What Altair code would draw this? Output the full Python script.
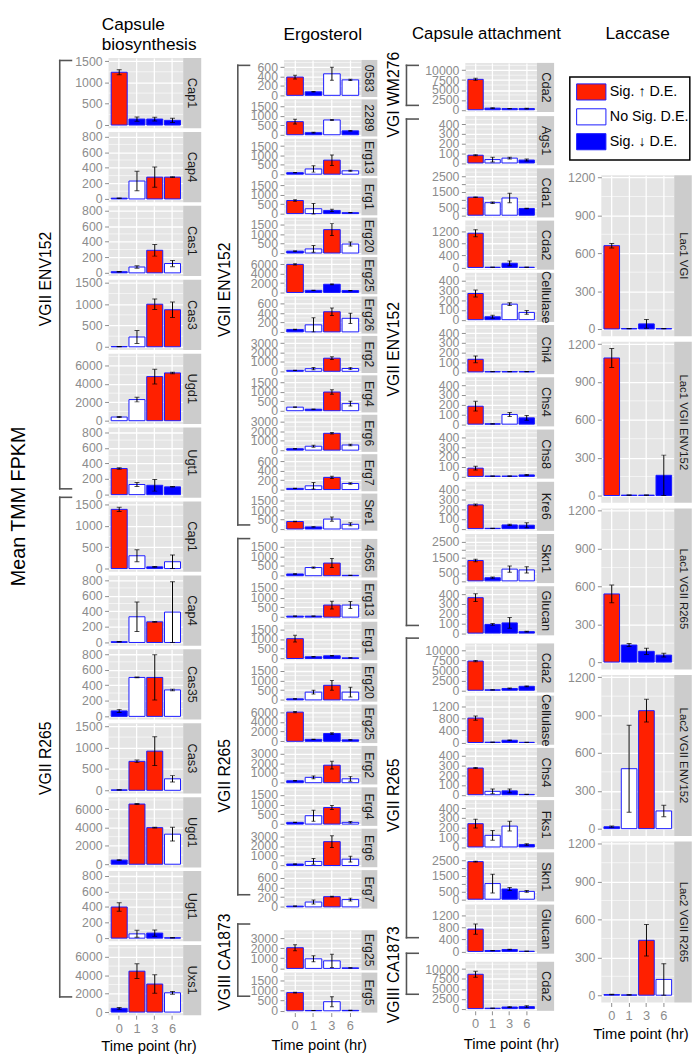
import altair as alt
import pandas as pd

FONT = "Liberation Sans"

# ---------------------------------------------------------------- data
TIMES = ["0", "1", "3", "6"]
SIG_CODES = ["U", "N", "D"]
SIG_LABELS = ["Sig. \u2191 D.E.", "No Sig. D.E.", "Sig. \u2193 D.E."]
SIG_FILLS = ["#FF2000", "#FFFFFF", "#0000FF"]
X_TITLE = "Time point (hr)"
Y_TITLE = "Mean TMM FPKM"
COL_TITLES = [["Capsule", "biosynthesis"], ["Ergosterol"], ["Capsule attachment"], ["Laccase"]]
LABEL_SKIP = {(2500, 500): [1000, 2000]}

# Capsule biosynthesis
CB_STRAINS = ["VGII ENV152", "VGII R265"]
CB_COUNTS = [6, 7]
CB_GENES = ["Cap1", "Cap4", "Cas1", "Cas3", "Ugd1", "Ugt1",
            "Cap1", "Cap4", "Cas35", "Cas3", "Ugd1", "Ugt1", "Uxs1"]
CB_MEAN = [[1240, 140, 140, 110], [10, 230, 280, 280], [15, 75, 290, 120],
           [5, 230, 1000, 870], [400, 2300, 4800, 5200], [335, 130, 120, 100],
           [1390, 300, 40, 160], [10, 330, 265, 390], [70, 500, 500, 340],
           [10, 680, 920, 270], [450, 6550, 3980, 3270], [400, 55, 65, 5],
           [400, 4450, 3050, 2100]]
CB_SE = [[60, 50, 45, 50], [3, 125, 130, 5], [3, 15, 75, 40],
         [2, 150, 125, 180], [60, 250, 800, 80], [10, 25, 75, 3],
         [50, 140, 10, 160], [3, 190, 5, 390], [20, 5, 290, 10],
         [3, 30, 340, 75], [50, 60, 40, 750], [55, 45, 40, 2],
         [100, 800, 1000, 150]]
CB_SIG = ["UDDD", "DNUU", "DNUN", "DNUU", "NNUU", "UNDD",
          "UNDN", "DNUN", "DNUN", "DUUN", "DUUN", "UNDD", "DUUN"]
CB_TICKS = [(1500, 500), (800, 200), (800, 200), (1500, 500), (6000, 2000), (800, 200),
            (1500, 500), (800, 200), (800, 200), (1500, 500), (6000, 2000), (800, 200), (6000, 2000)]
CB_LIMIT = [1500, 820, 820, 1500, 6950, 820, 1500, 820, 820, 1500, 6950, 820, 6950]

# Ergosterol
ERG_STRAINS = ["VGII ENV152", "VGII R265", "VGIII CA1873"]
ERG_COUNTS = [12, 9, 2]
ERG_GENES = ["0583", "2289", "Erg13", "Erg1", "Erg20", "Erg25", "Erg26", "Erg2", "Erg4", "Erg6", "Erg7", "Sre1",
             "4565", "Erg13", "Erg1", "Erg20", "Erg25", "Erg2", "Erg4", "Erg6", "Erg7",
             "Erg25", "Erg5"]
ERG_MEAN = [[390, 75, 460, 330], [700, 110, 790, 210], [80, 280, 750, 180], [700, 260, 170, 50],
            [100, 220, 1250, 480], [6000, 450, 1750, 400], [50, 150, 430, 290], [100, 280, 1400, 300],
            [190, 80, 1000, 380], [150, 420, 1800, 550], [25, 80, 260, 130], [400, 110, 530, 250],
            [90, 420, 650, 20], [50, 50, 620, 620], [1020, 90, 140, 35], [55, 400, 750, 400],
            [6000, 400, 1600, 300], [200, 550, 1800, 400], [90, 430, 850, 90], [150, 420, 2450, 650],
            [15, 100, 210, 150], [2050, 950, 750, 50], [900, 15, 450, 20]]
ERG_SE = [[40, 5, 140, 15], [130, 20, 25, 10], [10, 170, 280, 25], [45, 280, 60, 5],
          [10, 180, 320, 110], [150, 30, 80, 30], [5, 150, 80, 110], [10, 120, 150, 120],
          [10, 5, 120, 130], [10, 100, 80, 90], [3, 70, 25, 15], [10, 10, 110, 80],
          [10, 30, 230, 3], [5, 5, 200, 180], [170, 10, 15, 3], [5, 100, 250, 250],
          [150, 30, 150, 30], [20, 150, 400, 250], [10, 280, 100, 40], [15, 300, 600, 300],
          [2, 40, 8, 30], [300, 300, 650, 5], [15, 2, 250, 2]]
ERG_SIG = ["UDNN", "UDND", "DNUN", "UNDD", "DNUN", "UDDD", "DNUN", "DNUN", "NDUN", "DNUN", "DNUN", "UDNN",
           "DNUD", "DDUN", "UDDD", "DNUN", "UDDD", "DNUN", "DNUN", "DNUN", "DNUN",
           "UNND", "UDND"]
ERG_TICKS = [(600, 200), (1500, 500), (1500, 500), (1500, 500), (1500, 500), (6000, 2000),
             (600, 200), (3000, 1000), (1500, 500), (3000, 1000), (600, 200), (1500, 500),
             (1500, 500), (1500, 500), (1500, 500), (1500, 500), (6000, 2000), (3000, 1000),
             (1500, 500), (3000, 1000), (600, 200), (3000, 1000), (1500, 500)]
ERG_LIMIT = [720, 1800, 1800, 1800, 1800, 7200, 720, 3600, 1800, 3600, 720, 1800,
             1800, 1800, 1800, 1800, 7200, 3600, 1800, 3600, 720, 3600, 1800]

# Capsule attachment
CA_STRAINS = ["VGI WM276", "VGII ENV152", "VGII R265", "VGIII CA1873"]
CA_COUNTS = [1, 10, 6, 1]
CA_GENES = ["Cda2",
            "Ags1", "Cda1", "Cda2", "Cellulase", "Chi4", "Chs4", "Chs8", "Kre6", "Skn1", "Glucan",
            "Cda2", "Cellulase", "Chs4", "Fks1", "Skn1", "Glucan",
            "Cda2"]
CA_MEAN = [[7700, 400, 300, 300],
           [80, 35, 50, 30], [1150, 800, 1100, 430], [1150, 5, 140, 5], [270, 30, 160, 75],
           [130, 3, 3, 3], [185, 3, 100, 65], [85, 3, 3, 15], [245, 3, 38, 35],
           [1300, 200, 750, 700], [365, 90, 105, 15],
           [7400, 100, 450, 1000], [820, 10, 75, 5], [275, 35, 40, 3], [240, 120, 215, 25],
           [2400, 1000, 650, 500], [750, 30, 65, 5],
           [8700, 100, 400, 500]]
CA_SE = [[250, 100, 50, 100],
         [5, 25, 10, 10], [20, 50, 300, 10], [120, 2, 80, 2], [35, 15, 15, 20],
         [35, 1, 1, 1], [50, 1, 20, 25], [20, 1, 1, 5], [8, 1, 6, 25],
         [80, 40, 200, 200], [40, 8, 55, 4],
         [150, 20, 100, 100], [70, 2, 12, 1], [5, 25, 20, 1], [45, 50, 50, 8],
         [30, 600, 100, 60], [170, 5, 12, 1],
         [750, 20, 100, 250]]
CA_SIG = ["UDDD",
          "UNND", "UNND", "UDDD", "UDNN", "UDDD", "UDND", "UDDD", "UDDD", "UDNN", "UDDD",
          "UDDD", "UDDD", "UNDD", "UNND", "UNDN", "UDDD",
          "UDDD"]
CA_TICKS = [(10000, 2500),
            (400, 100), (2500, 500), (1200, 400), (400, 100), (400, 100), (400, 100), (400, 100),
            (400, 100), (2500, 500), (400, 100),
            (10000, 2500), (1200, 400), (400, 100), (400, 100), (2500, 500), (1200, 400),
            (10000, 2500)]
CA_LIMIT = [11300, 460, 2850, 1500, 460, 460, 460, 460, 460, 2850, 460,
            11300, 1500, 460, 460, 2850, 1500, 11300]

# Laccase
LAC_STRAINS = []
LAC_COUNTS = [5]
LAC_GENES = ["Lac1 VGI", "Lac1 VGII ENV152", "Lac1 VGII R265", "Lac2 VGII ENV152", "Lac2 VGII R265"]
LAC_MEAN = [[660, 3, 40, 3], [1090, 3, 3, 160], [540, 135, 85, 55], [15, 475, 935, 140], [5, 2, 435, 125]]
LAC_SE = [[18, 1, 35, 1], [75, 1, 1, 160], [70, 12, 25, 15], [5, 345, 90, 45], [2, 1, 125, 125]]
LAC_SIG = ["UDDD", "UDDD", "UDDD", "DNUN", "DDUN"]
LAC_TICKS = [(1200, 300)] * 5
LAC_LIMIT = [1160] * 5

# ---------------------------------------------------------------- layout (reference pixels)
SX, SY, TOP = 0.99, 0.99, 3.0
XTITLE_BASE = 1047.0
GRAY = "#8C8C8C"
PANEL_FILL = "#E5E5E5"
STRIP_FILL = "#CCCCCC"
BAR_STROKE = "#1A1AFF"
BRACKET_COLOR = "#555555"
FILL_SCALE = alt.Scale(domain=SIG_CODES, range=SIG_FILLS)

LAYOUT = [
    dict(x0=3, x1=200, plot_left=105, w=76.5, ws=18.5, strip_fs=13, cap=5,
         tops=[44.5, 491.5], heights=[72, 72], gaps=[2.5, 2.5],
         brackets=[(48, 487), (495.7, 1007.7)], label_y=[272, 763],
         bracket_x=55, tick_x=67, label_x=41.5,
         title_x=98, title_y=[17, 37.5], title_align="left", title_fs=17.5, xtitle_x=146),
    dict(x0=200, x1=379, plot_left=283.3, w=79.4, ws=16.3, strip_fs=12.5, cap=4,
         tops=[47, 532.5, 925], heights=[38, 39.5, 41], gaps=[2, 2, 2],
         brackets=[(53, 524), (538, 903), (933, 1007)], label_y=[283, 781, 972],
         bracket_x=236, tick_x=248, label_x=222.5,
         title_x=323, title_y=[26.5], title_align="center", title_fs=17.5, xtitle_x=319),
    dict(x0=379, x1=570, plot_left=468.3, w=73.4, ws=17.6, strip_fs=13, cap=4.5,
         tops=[49.5, 103.3, 636.3, 958.3], heights=[50.3] * 4, gaps=[2.5] * 4,
         brackets=[(53, 94), (108, 627), (640, 947), (963, 1005)], label_y=[83, 344, 801, 985],
         bracket_x=408, tick_x=420, label_x=395,
         title_x=490, title_y=[26], title_align="center", title_fs=17, xtitle_x=515),
    dict(x0=570, x1=700, plot_left=607.3, w=74.7, ws=18, strip_fs=11.5, cap=5,
         tops=[165.5], heights=[165], gaps=[5],
         brackets=[], label_y=[], bracket_x=0, tick_x=0, label_x=0,
         title_x=644.5, title_y=[26], title_align="center", title_fs=17.5, xtitle_x=647.5),
]
LEGEND = dict(box=(575, 65, 698, 150), sw_x=(582, 612), sw_top=72, sw_step=25.5, sw_h=16.5,
              text_x=616, fs=14.5)
YLAB = dict(x=13, y=505, fs=20)


def px(L, v):
    return (v - L["plot_left"]) * SX


def py(v):
    return (v - TOP) * SY


def pos(xf="x", yf="y"):
    return dict(x=alt.X(f"{xf}:Q", scale=None, axis=None),
                y=alt.Y(f"{yf}:Q", scale=None, axis=None))


def make_panel(L, gene, mean, se, sig, tick, limit, h_ref, bottom_ref=None):
    w = L["w"] * SX
    ws = L["ws"] * SX
    h = h_ref * SY
    top, step = tick
    ticks = list(range(0, top + 1, step))
    d_lo, d_hi = -0.05 * limit, 1.05 * limit
    minors = [t + step / 2 for t in ticks if t + step / 2 < d_hi]
    df = pd.DataFrame({"time": TIMES, "value": mean,
                       "lo": [m - s for m, s in zip(mean, se)],
                       "hi": [m + s for m, s in zip(mean, se)],
                       "sig": list(sig)})
    ysc = alt.Scale(domain=[d_lo, d_hi], nice=False, zero=False)
    xsc = alt.Scale(type="band", domain=TIMES, paddingInner=0.1, paddingOuter=0.15)
    yopts = dict(values=ticks, title=None, format="d", grid=True, gridColor="white", gridWidth=1.3,
                 domain=False, tickColor=GRAY, tickSize=4, tickWidth=1,
                 labelColor=GRAY, labelFontSize=12.5, labelPadding=2.5,
                 labelOverlap=False, labelFlush=False, labelBound=False)
    skip = LABEL_SKIP.get(tick)
    if skip:
        yopts["labelExpr"] = "indexof([%s], datum.value) >= 0 ? '' : datum.label" % ",".join(
            str(v) for v in skip)
    yaxis = alt.Axis(**yopts)
    if bottom_ref is not None:
        xaxis = alt.Axis(title=X_TITLE, labelAngle=0, grid=True, gridColor="white", gridWidth=1.3,
                         domain=False, bandPosition=0.5, tickColor=GRAY, tickSize=4, tickWidth=1,
                         labelColor=GRAY, labelFontSize=13, labelPadding=3,
                         titleFontSize=15, titleFontWeight="normal", titleColor="black",
                         titleX=(L["xtitle_x"] - L["plot_left"]) * SX,
                         titleY=(XTITLE_BASE - bottom_ref) * SY,
                         titleBaseline="alphabetic", titleAlign="center")
    else:
        xaxis = alt.Axis(title=None, labels=False, ticks=False, domain=False, grid=True,
                         gridColor="white", gridWidth=1.3, bandPosition=0.5)
    X = alt.X("time:N", scale=xsc, axis=xaxis, sort=TIMES)
    minor = alt.Chart(pd.DataFrame({"m": minors})).mark_rule(color="white", strokeWidth=0.6).encode(
        y=alt.Y("m:Q", scale=ysc, axis=yaxis))
    base = alt.Chart(df)
    bars = base.mark_bar(stroke=BAR_STROKE, strokeWidth=1).encode(
        x=X, y=alt.Y("value:Q", scale=ysc, axis=yaxis), y2=alt.datum(0),
        fill=alt.Fill("sig:N", scale=FILL_SCALE, legend=None))
    errs = base.mark_rule(color="black", strokeWidth=1, clip=True).encode(
        x=X, y=alt.Y("lo:Q", scale=ysc, axis=yaxis), y2="hi:Q")
    caps = base.transform_fold(["lo", "hi"], as_=["end", "yv"]).mark_tick(
        color="black", size=L["cap"], thickness=1, orient="horizontal", clip=True).encode(
        x=X, y=alt.Y("yv:Q", scale=ysc, axis=yaxis))
    sdf = pd.DataFrame({"g": [gene]})
    strip_bg = alt.Chart(sdf).mark_rect(fill=STRIP_FILL).encode(
        x=alt.value(w), x2=alt.value(w + ws), y=alt.value(0), y2=alt.value(h))
    strip_tx = alt.Chart(sdf).mark_text(angle=90, fontSize=L["strip_fs"], color="#1A1A1A",
                                        baseline="middle", align="center").encode(
        x=alt.value(w + ws / 2), y=alt.value(h / 2), text="g:N")
    return alt.layer(minor, bars, errs, caps, strip_bg, strip_tx).properties(
        width=w, height=h, view=alt.ViewBackground(fill=PANEL_FILL, strokeWidth=0))


def spacer(h):
    return alt.Chart(pd.DataFrame({"s": [0]})).mark_point(opacity=0, size=1).encode(
        x=alt.value(0), y=alt.value(0)).properties(width=1, height=h)


def title_chart(ci, L, strains):
    h = py(L["tops"][0])
    layers = []
    ext = pd.DataFrame({"x": [px(L, L["x0"])], "x2": [px(L, L["x1"])], "y": [0.0], "y2": [h]})
    layers.append(alt.Chart(ext).mark_rect(fill="#FFFFFF", fillOpacity=0, strokeWidth=0).encode(
        x2="x2:Q", y2="y2:Q", **pos()))
    lines = COL_TITLES[ci]
    tdf = pd.DataFrame({"x": [px(L, L["title_x"])] * len(lines),
                        "y": [py(v) for v in L["title_y"]], "t": lines})
    layers.append(alt.Chart(tdf).mark_text(fontSize=L["title_fs"], align=L["title_align"],
                                           baseline="alphabetic", color="black").encode(
        text="t:N", **pos()))
    if L["brackets"]:
        segs = []
        bx, tx = px(L, L["bracket_x"]), px(L, L["tick_x"])
        for a, b in L["brackets"]:
            segs += [dict(x=bx, x2=bx, y=py(a), y2=py(b)),
                     dict(x=bx, x2=tx, y=py(a), y2=py(a)),
                     dict(x=bx, x2=tx, y=py(b), y2=py(b))]
        layers.append(alt.Chart(pd.DataFrame(segs)).mark_rule(
            color=BRACKET_COLOR, strokeWidth=1.6, strokeCap="square").encode(
            x2="x2:Q", y2="y2:Q", **pos()))
        gdf = pd.DataFrame({"x": [px(L, L["label_x"])] * len(strains),
                            "y": [py(v) for v in L["label_y"]], "t": strains})
        layers.append(alt.Chart(gdf).mark_text(angle=270, fontSize=16, color="black",
                                               baseline="middle", align="center").encode(
            text="t:N", **pos()))
    if ci == 0:
        ydf = pd.DataFrame({"x": [px(L, YLAB["x"])], "y": [py(YLAB["y"])], "t": [Y_TITLE]})
        layers.append(alt.Chart(ydf).mark_text(angle=270, fontSize=YLAB["fs"], color="black",
                                               baseline="middle", align="center").encode(
            text="t:N", **pos()))
    if ci == 3:
        bx0, by0, bx1, by1 = LEGEND["box"]
        box = pd.DataFrame({"x": [px(L, bx0)], "x2": [px(L, bx1)], "y": [py(by0)], "y2": [py(by1)]})
        layers.append(alt.Chart(box).mark_rect(fill="white", stroke="black", strokeWidth=1.5).encode(
            x2="x2:Q", y2="y2:Q", **pos()))
        n = len(SIG_CODES)
        tops = [LEGEND["sw_top"] + i * LEGEND["sw_step"] for i in range(n)]
        sw = pd.DataFrame({"sig": SIG_CODES, "label": SIG_LABELS,
                           "x": [px(L, LEGEND["sw_x"][0])] * n, "x2": [px(L, LEGEND["sw_x"][1])] * n,
                           "y": [py(t) for t in tops], "y2": [py(t + LEGEND["sw_h"]) for t in tops],
                           "tx": [px(L, LEGEND["text_x"])] * n,
                           "ty": [py(t + LEGEND["sw_h"] / 2) for t in tops]})
        layers.append(alt.Chart(sw).mark_rect(stroke=BAR_STROKE, strokeWidth=1).encode(
            x2="x2:Q", y2="y2:Q", fill=alt.Fill("sig:N", scale=FILL_SCALE, legend=None), **pos()))
        layers.append(alt.Chart(sw).mark_text(align="left", baseline="middle", fontSize=LEGEND["fs"],
                                              color="black").encode(text="label:N", **pos("tx", "ty")))
    return alt.layer(*layers).properties(width=L["w"] * SX, height=h)


def build_column(ci, strains, counts, genes, means, ses, sigs, ticks, limits):
    L = LAYOUT[ci]
    items = [title_chart(ci, L, strains)]
    prev_bottom = L["tops"][0]
    idx = 0
    total = sum(counts)
    for g, n in enumerate(counts):
        top, hh, gap = L["tops"][g], L["heights"][g], L["gaps"][g]
        if top > prev_bottom:
            items.append(spacer((top - prev_bottom) * SY))
        bottom = top + n * hh + (n - 1) * gap
        for k in range(n):
            i = idx + k
            if k > 0:
                items.append(spacer(gap * SY))
            items.append(make_panel(L, genes[i], means[i], ses[i], sigs[i], ticks[i], limits[i], hh,
                                    bottom if i == total - 1 else None))
        idx += n
        prev_bottom = bottom
    return alt.vconcat(*items, spacing=0, bounds="flush")


cols = [
    build_column(0, CB_STRAINS, CB_COUNTS, CB_GENES, CB_MEAN, CB_SE, CB_SIG, CB_TICKS, CB_LIMIT),
    build_column(1, ERG_STRAINS, ERG_COUNTS, ERG_GENES, ERG_MEAN, ERG_SE, ERG_SIG, ERG_TICKS, ERG_LIMIT),
    build_column(2, CA_STRAINS, CA_COUNTS, CA_GENES, CA_MEAN, CA_SE, CA_SIG, CA_TICKS, CA_LIMIT),
    build_column(3, LAC_STRAINS, LAC_COUNTS, LAC_GENES, LAC_MEAN, LAC_SE, LAC_SIG, LAC_TICKS, LAC_LIMIT),
]

chart = alt.hconcat(*cols, spacing=0).properties(padding=0).configure(
    font=FONT).configure_view(strokeWidth=0)

chart.save("out.html", embed_options={"renderer": "svg", "actions": False})
